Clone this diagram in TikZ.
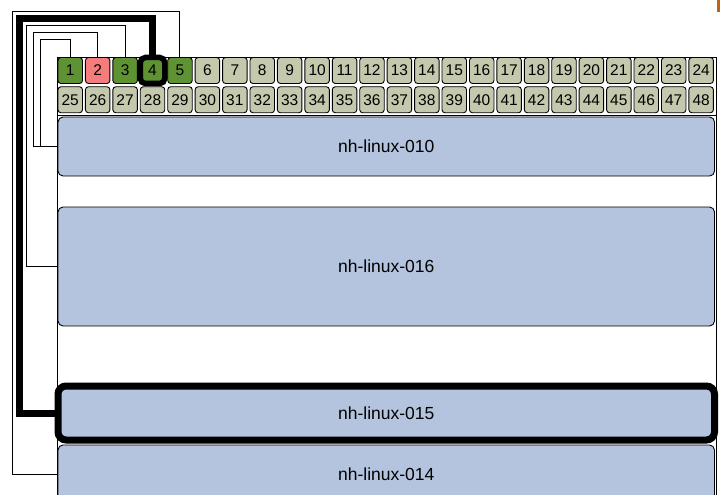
\documentclass[tikz,border=0pt]{standalone}
\usepackage{fontspec}
\setmainfont{Liberation Sans}
\definecolor{portgray}{RGB}{196,200,172}
\definecolor{portgreen}{RGB}{94,146,50}
\definecolor{portred}{RGB}{244,124,124}
\definecolor{srvblue}{RGB}{180,196,222}
\definecolor{markcol}{RGB}{190,100,20}
\begin{document}
\begin{tikzpicture}[x=1pt,y=-1pt,
  port/.style={draw=black, line width=0.9pt, rounded corners=3pt, minimum width=24.5pt, minimum height=26pt, inner sep=0pt, font=\fontsize{15.5}{16}\selectfont, text=black},
  server/.style={draw=black, line width=0.9pt, rounded corners=5pt, fill=srvblue, minimum width=656.5pt, inner sep=0pt, font=\fontsize{17.5}{18}\selectfont},
  cable/.style={draw=black, line width=1pt},
  bigcable/.style={draw=black, line width=7pt}]
\useasboundingbox (0,0) rectangle (721,495);
% rack frame
\draw[line width=0.9pt] (57,57) rectangle (716,530);
\draw[line width=0.9pt] (57,57) -- (716,57) (57,115.5) -- (716,115.5);
% ports row 1
\foreach \i/\c in {1/portgreen,2/portred,3/portgreen,5/portgreen}{
  \node[port, fill=\c] (p\i) at ({70.25+(\i-1)*27.43},70.5) {\i};
}
\foreach \i in {6,...,24}{
  \node[port, fill=portgray] (p\i) at ({70.25+(\i-1)*27.43},70.5) {\i};
}
\node[port, fill=portgreen, line width=5.5pt, rounded corners=5pt] (p4) at ({70.25+3*27.43},70.5) {4};
% ports row 2
\foreach \i in {25,...,48}{
  \node[port, fill=portgray] (p\i) at ({70.25+(\i-25)*27.43},99.75) {\i};
}
% servers
\node[server, minimum height=59pt] (s010) at (386.25,146.5) {nh-linux-010};
\node[server, minimum height=119pt] (s016) at (386.25,266.5) {nh-linux-016};
\node[server, minimum height=58pt] (s014) at (386.25,474) {nh-linux-014};
\node[server, minimum height=54pt, line width=7pt, rounded corners=8pt] (s015) at (386.25,413) {nh-linux-015};
% cable bends
\coordinate (b1) at (40,40);
\coordinate (b2) at (33,33);
\coordinate (b3) at (26,26);
\coordinate (b4) at (19,19);
\coordinate (b5) at (12,12);
\draw[cable] (p5.north) |- (b5) |- (s014.west);
\draw[cable] (p3.north) |- (b3) |- (s016.west);
\draw[cable] (p2.north) |- (b2) |- (s010.west);
\draw[cable] (p1.north) |- (b1) |- (s010.west);
\draw[bigcable] (p4.north) |- (b4) |- (s015.west);
% corner mark
\fill[markcol] (716.7,0) rectangle (720,12.5);
\end{tikzpicture}
\end{document}
